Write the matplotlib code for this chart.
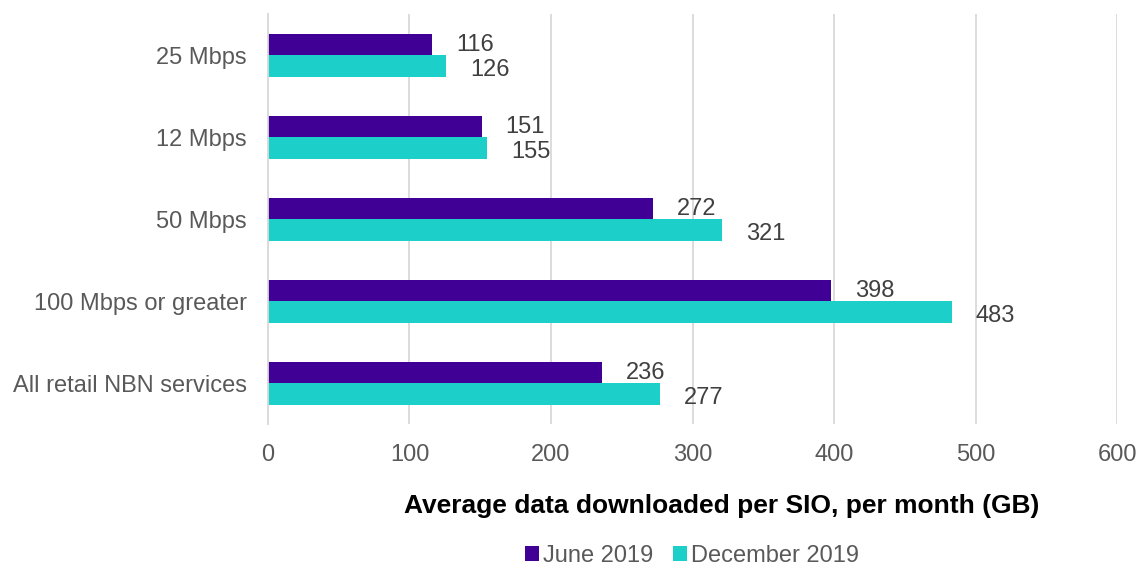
import numpy as np
import matplotlib.pyplot as plt

plt.rcParams['font.family'] = ['Liberation Sans', 'DejaVu Sans']

categories = ['25 Mbps', '12 Mbps', '50 Mbps', '100 Mbps or greater', 'All retail NBN services']
june_2019 = [116, 151, 272, 398, 236]
dec_2019 = [126, 155, 321, 483, 277]
series_names = ['June 2019', 'December 2019']
colors = ['#400096', '#1DCFC9']

fig = plt.figure(figsize=(11.4, 5.68), dpi=100)
ax = fig.add_axes([0.235, 0.253, 0.745, 0.722])

y = np.arange(len(categories))
h = 0.26
b1 = ax.barh(y - h / 2, june_2019, height=h, color=colors[0], label=series_names[0])
b2 = ax.barh(y + h / 2, dec_2019, height=h, color=colors[1], label=series_names[1])

# value labels sit just right of each bar
for bars, vals, dy in [(b1, june_2019, 0), (b2, dec_2019, -4)]:
    for bar, v in zip(bars, vals):
        ax.annotate(str(v), (v, bar.get_y() + bar.get_height() / 2),
                    xytext=(24, dy), textcoords='offset pixels',
                    va='center', ha='left', fontsize=17, color='#404040')

ax.set_xlim(0, 600)
ax.set_ylim(len(categories) - 0.5, -0.5)
ax.set_xticks(range(0, 601, 100))
ax.set_yticks(y)
ax.set_yticklabels(categories)
ax.tick_params(axis='both', length=0, labelsize=17, labelcolor='#595959')
ax.tick_params(axis='y', pad=15)
ax.tick_params(axis='x', pad=14)

ax.grid(axis='x', color='#D9D9D9', linewidth=1.3)
ax.set_axisbelow(True)
for side in ['top', 'right', 'bottom']:
    ax.spines[side].set_visible(False)
ax.spines['left'].set_color('#D9D9D9')
ax.spines['left'].set_linewidth(1.3)

fig.text(722 / 1140, 1 - 506 / 568, 'Average data downloaded per SIO, per month (GB)',
         fontsize=19, fontweight='bold', color='black', ha='center', va='center')

fig.legend(handles=[b1, b2], loc='center', bbox_to_anchor=(0.607, 0.021), ncol=2,
           frameon=False, fontsize=17, labelcolor='#595959', handlelength=0.6,
           handleheight=0.6, handletextpad=0.2, columnspacing=0.8)

fig.savefig('out.png', dpi=100)
